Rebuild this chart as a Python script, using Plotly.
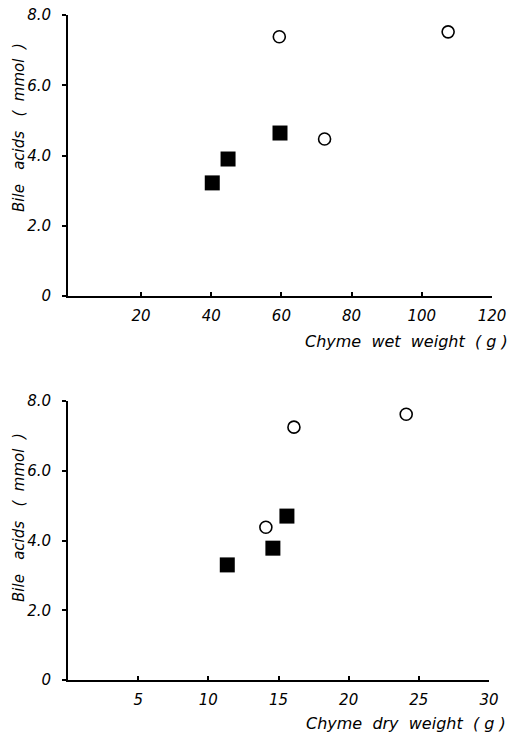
import plotly.graph_objects as go

# Top panel: chyme wet weight
wet_sq_x = [40.3, 44.8, 59.6]
wet_sq_y = [3.22, 3.90, 4.64]
wet_ci_x = [59.4, 72.3, 107.5]
wet_ci_y = [7.38, 4.47, 7.52]

# Bottom panel: chyme dry weight
dry_sq_x = [11.35, 14.6, 15.6]
dry_sq_y = [3.30, 3.78, 4.70]
dry_ci_x = [14.1, 16.1, 24.1]
dry_ci_y = [4.38, 7.25, 7.62]

y_ticks = [0, 2, 4, 6, 8]
y_ticktext = ["0", "2.0", "4.0", "6.0", "8.0"]
wet_ticks = [20, 40, 60, 80, 100, 120]
dry_ticks = [5, 10, 15, 20, 25, 30]

W, H = 511, 733
FONT = "DejaVu Sans"
tickfont = dict(family=FONT, size=15, color="black", style="italic")

fig = go.Figure()

sq = dict(symbol="square", size=15, color="black", line=dict(width=0))
ci = dict(symbol="circle-open", size=12, color="black", line=dict(width=1.6))

fig.add_trace(go.Scatter(x=wet_sq_x, y=wet_sq_y, mode="markers", marker=sq, xaxis="x", yaxis="y"))
fig.add_trace(go.Scatter(x=wet_ci_x, y=wet_ci_y, mode="markers", marker=ci, xaxis="x", yaxis="y"))
fig.add_trace(go.Scatter(x=dry_sq_x, y=dry_sq_y, mode="markers", marker=sq, xaxis="x2", yaxis="y2"))
fig.add_trace(go.Scatter(x=dry_ci_x, y=dry_ci_y, mode="markers", marker=ci, xaxis="x2", yaxis="y2"))

axis_common = dict(showline=True, linecolor="black", linewidth=2, showgrid=False,
                   zeroline=False, tickfont=tickfont, ticklen=4, tickwidth=1.5,
                   tickcolor="black", automargin=False)

fig.update_layout(
    width=W, height=H,
    margin=dict(l=0, r=0, t=0, b=0, autoexpand=False),
    paper_bgcolor="white", plot_bgcolor="white",
    showlegend=False,
    xaxis=dict(axis_common, domain=[68 / W, 492 / W], range=[-0.8, 120],
               tickvals=wet_ticks, ticks="inside", anchor="y", ticklabelstandoff=5),
    yaxis=dict(axis_common, domain=[1 - 296 / H, 1 - 15 / H], range=[0, 8],
               tickvals=y_ticks, ticktext=y_ticktext, ticks="outside", anchor="x",
               ticklabelstandoff=8),
    xaxis2=dict(axis_common, domain=[68 / W, 489 / W], range=[0, 30],
                tickvals=dry_ticks, ticks="inside", anchor="y2", ticklabelstandoff=5),
    yaxis2=dict(axis_common, domain=[1 - 680 / H, 1 - 401 / H], range=[0, 8],
                tickvals=y_ticks, ticktext=y_ticktext, ticks="outside", anchor="x2",
                ticklabelstandoff=8),
)

ytitlefont = dict(family=FONT, size=15, color="black", style="italic")
xtitlefont = dict(family=FONT, size=16, color="black", style="italic")
ann = [
    dict(text="Bile   acids   (  mmol  )", x=19 / W, y=1 - 128 / H, textangle=-90, font=ytitlefont),
    dict(text="Bile   acids   (  mmol  )", x=19 / W, y=1 - 518 / H, textangle=-90, font=ytitlefont),
    dict(text="Chyme  wet  weight  ( g )", x=406 / W, y=1 - 341 / H, textangle=0, font=xtitlefont),
    dict(text="Chyme  dry  weight  ( g )", x=406 / W, y=1 - 723 / H, textangle=0, font=xtitlefont),
]
for a in ann:
    fig.add_annotation(xref="paper", yref="paper", showarrow=False,
                       xanchor="center", yanchor="middle", **a)

fig.write_html(
    "out.html",
    config={"displayModeBar": False},
    post_script="document.body.style.margin='0px';document.body.style.overflow='hidden';",
)
